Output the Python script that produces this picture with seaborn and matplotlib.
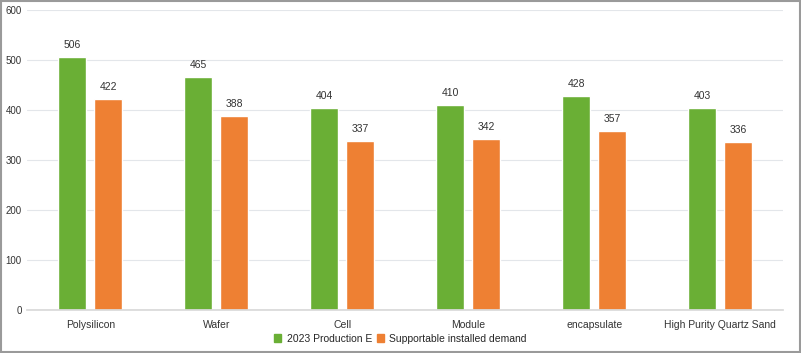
import matplotlib
matplotlib.use("Agg")
import matplotlib.pyplot as plt
import seaborn as sns
import pandas as pd

categories = ["Polysilicon", "Wafer", "Cell", "Module", "encapsulate", "High Purity Quartz Sand"]
production = [506, 465, 404, 410, 428, 403]
demand = [422, 388, 337, 342, 357, 336]
series = ["2023 Production E", "Supportable installed demand"]
colors = ["#6aaf35", "#ee8033"]

df = pd.DataFrame({
    "category": categories * 2,
    "value": production + demand,
    "series": [series[0]] * len(categories) + [series[1]] * len(categories),
})

sns.set_theme(style="white")
plt.rcParams["font.family"] = ["Liberation Sans", "DejaVu Sans"]

fig = plt.figure(figsize=(8.01, 3.53), dpi=100)
ax = fig.add_axes([0.034, 0.122, 0.944, 0.850])

sns.barplot(data=df, x="category", y="value", hue="series", palette=colors,
            saturation=1, width=0.57, gap=0.22, ax=ax, legend=False)

for cont in ax.containers:
    ax.bar_label(cont, padding=5, fontsize=7.5, color="#333333")

ax.set_ylim(0, 600)
ax.set_yticks(range(0, 601, 100))
ax.set_xlim(-0.5, len(categories) - 0.5)
ax.yaxis.grid(True, color="#e3e6ea", linewidth=0.8)
ax.set_axisbelow(True)
for s in ["top", "right", "left"]:
    ax.spines[s].set_visible(False)
ax.spines["bottom"].set_color("#d9d9d9")
ax.tick_params(axis="y", labelsize=7, colors="#333333", length=0, pad=4)
ax.tick_params(axis="x", labelsize=7.5, colors="#333333", length=0, pad=7)
ax.set_xlabel("")
ax.set_ylabel("")

handles = [plt.Rectangle((0, 0), 1, 1, color=c) for c in colors]
fig.legend(handles, series, loc="lower center", bbox_to_anchor=(0.5, 0.0), ncol=2,
           frameon=False, fontsize=7.5, handlelength=0.7, handleheight=0.7,
           handletextpad=0.5, columnspacing=0.5)

border = plt.Rectangle((0.001, 0.002), 0.998, 0.996, transform=fig.transFigure,
                       fill=False, edgecolor="#9a9a9a", linewidth=1.5)
fig.patches.append(border)

fig.savefig("out.png", dpi=100)
